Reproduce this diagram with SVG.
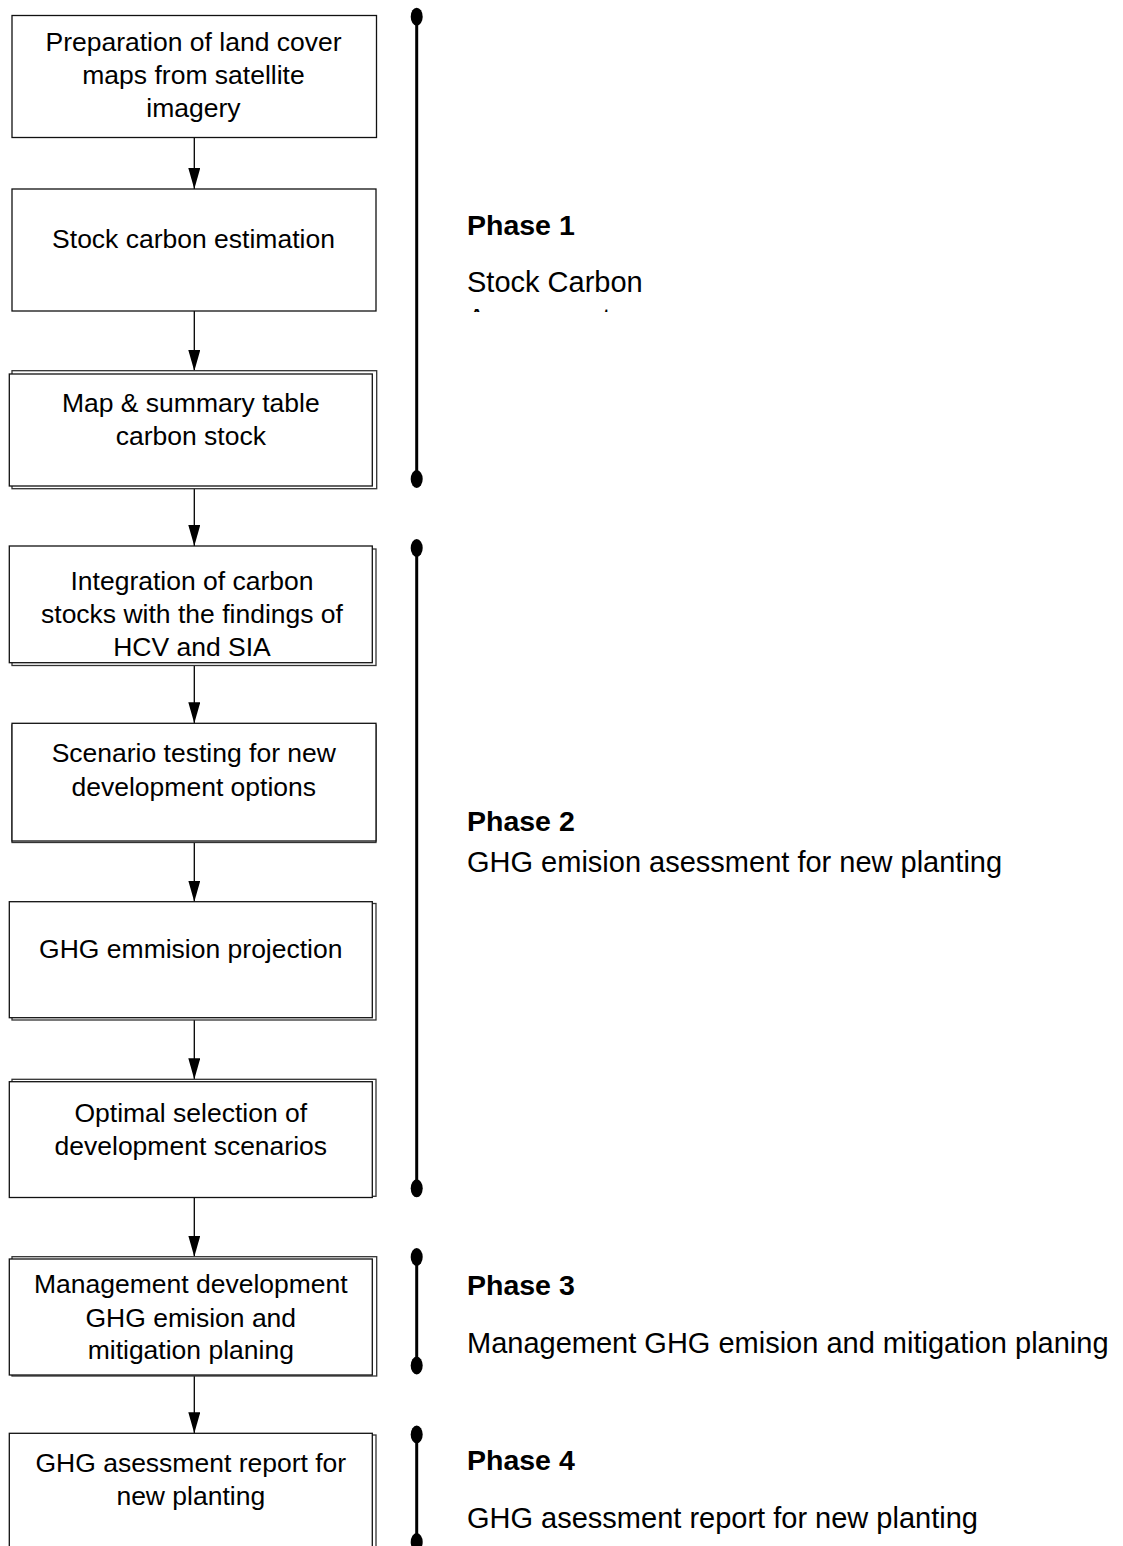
<svg xmlns="http://www.w3.org/2000/svg" width="1123" height="1546" viewBox="0 0 1123 1546">
<style>
.bk{fill:#fff;stroke:#333;stroke-width:1.3}
.fr{fill:#fff;stroke:#111;stroke-width:1.3}
.t{font-family:"Liberation Sans",Arial,sans-serif;font-size:26.5px;fill:#000;text-anchor:middle}
.ph{font-family:"Liberation Sans",Arial,sans-serif;font-size:28.5px;font-weight:bold;fill:#000}
.pd{font-family:"Liberation Sans",Arial,sans-serif;font-size:29px;fill:#000}
.bar{stroke:#000;stroke-width:3;fill:none}
.dot{fill:#000}
.c{stroke:#000;stroke-width:1.3;fill:none;marker-end:url(#arrow)}
</style>
<defs>
<marker id="arrow" markerUnits="userSpaceOnUse" viewBox="0 0 21 12" refX="21" refY="6" markerWidth="21" markerHeight="12" orient="auto">
<path d="M0,0 L21,6 L0,12 z" fill="#000"/>
</marker>
<clipPath id="clip1"><rect x="460" y="296" width="300" height="16"/></clipPath>
</defs>
<rect width="1123" height="1546" fill="#fff"/>

<g id="connectors">
<line class="c" x1="194.3" y1="137.5" x2="194.3" y2="189"/>
<line class="c" x1="194.3" y1="311" x2="194.3" y2="371"/>
<line class="c" x1="194.3" y1="489" x2="194.3" y2="546"/>
<line class="c" x1="194.3" y1="665" x2="194.3" y2="723.3"/>
<line class="c" x1="194.3" y1="842.5" x2="194.3" y2="901.7"/>
<line class="c" x1="194.3" y1="1020" x2="194.3" y2="1079.3"/>
<line class="c" x1="194.3" y1="1197.5" x2="194.3" y2="1256.7"/>
<line class="c" x1="194.3" y1="1376" x2="194.3" y2="1433.3"/>
</g>

<g id="node1">
<rect class="fr" x="12" y="15.5" width="364.5" height="122"/>
<text class="t" x="193.5" y="51">Preparation of land cover</text>
<text class="t" x="193.5" y="84">maps from satellite</text>
<text class="t" x="193.5" y="117">imagery</text>
</g>

<g id="node2">
<rect class="fr" x="12" y="189" width="364" height="122"/>
<text class="t" x="193.5" y="248.3">Stock carbon estimation</text>
</g>

<g id="node3">
<rect class="bk" x="12" y="370.7" width="364.7" height="118"/>
<rect class="fr" x="9.3" y="374" width="363" height="112"/>
<text class="t" x="190.8" y="411.7">Map &amp; summary table</text>
<text class="t" x="190.8" y="444.5">carbon stock</text>
</g>

<g id="node4">
<rect class="bk" x="12" y="549" width="364" height="116.5"/>
<rect class="fr" x="9.3" y="546" width="363" height="116.7"/>
<text class="t" x="192" y="590">Integration of carbon</text>
<text class="t" x="192" y="623.3">stocks with the findings of</text>
<text class="t" x="192" y="656">HCV and SIA</text>
</g>

<g id="node5">
<rect class="bk" x="12" y="725" width="364" height="117.5"/>
<rect class="fr" x="12" y="723.3" width="364" height="117.7"/>
<text class="t" x="193.8" y="762">Scenario testing for new</text>
<text class="t" x="193.8" y="795.5">development options</text>
</g>

<g id="node6">
<rect class="bk" x="12" y="903.5" width="364" height="116.5"/>
<rect class="fr" x="9.3" y="901.7" width="363" height="116"/>
<text class="t" x="190.8" y="957.7">GHG emmision projection</text>
</g>

<g id="node7">
<rect class="bk" x="12" y="1079.3" width="364" height="117"/>
<rect class="fr" x="9.3" y="1081.7" width="363" height="115.8"/>
<text class="t" x="190.8" y="1121.7">Optimal selection of</text>
<text class="t" x="190.8" y="1155">development scenarios</text>
</g>

<g id="node8">
<rect class="bk" x="12" y="1256.7" width="364.7" height="119.3"/>
<rect class="fr" x="9.3" y="1259" width="363" height="116"/>
<text class="t" x="190.8" y="1293.3">Management development</text>
<text class="t" x="190.8" y="1326.7">GHG emision and</text>
<text class="t" x="190.8" y="1359.3">mitigation planing</text>
</g>

<g id="node9">
<rect class="bk" x="12" y="1435" width="364" height="130"/>
<rect class="fr" x="9.3" y="1433.3" width="363" height="130"/>
<text class="t" x="190.8" y="1472.3">GHG asessment report for</text>
<text class="t" x="190.8" y="1505">new planting</text>
</g>

<g id="phase1">
<line class="bar" x1="416.7" y1="16.7" x2="416.7" y2="479"/>
<ellipse class="dot" cx="416.7" cy="16.7" rx="6" ry="9"/>
<ellipse class="dot" cx="416.7" cy="479" rx="6" ry="9"/>
<text class="ph" x="467" y="235">Phase 1</text>
<text class="pd" x="467" y="291.7">Stock Carbon</text>
<text class="pd" x="467" y="329" clip-path="url(#clip1)">Asessment</text>
</g>

<g id="phase2">
<line class="bar" x1="416.7" y1="548" x2="416.7" y2="1188.3"/>
<ellipse class="dot" cx="416.7" cy="548" rx="6" ry="9"/>
<ellipse class="dot" cx="416.7" cy="1188.3" rx="6" ry="9"/>
<text class="ph" x="467" y="831">Phase 2</text>
<text class="pd" x="467" y="871.7">GHG emision asessment for new planting</text>
</g>

<g id="phase3">
<line class="bar" x1="416.7" y1="1257" x2="416.7" y2="1365.5"/>
<ellipse class="dot" cx="416.7" cy="1257" rx="6" ry="9"/>
<ellipse class="dot" cx="416.7" cy="1365.5" rx="6" ry="9"/>
<text class="ph" x="467" y="1295">Phase 3</text>
<text class="pd" x="467" y="1353.3">Management GHG emision and mitigation planing</text>
</g>

<g id="phase4">
<line class="bar" x1="416.7" y1="1434.5" x2="416.7" y2="1542"/>
<ellipse class="dot" cx="416.7" cy="1434.5" rx="6" ry="9"/>
<ellipse class="dot" cx="416.7" cy="1542" rx="6" ry="9"/>
<text class="ph" x="467" y="1470">Phase 4</text>
<text class="pd" x="467" y="1528.3">GHG asessment report for new planting</text>
</g>
</svg>
